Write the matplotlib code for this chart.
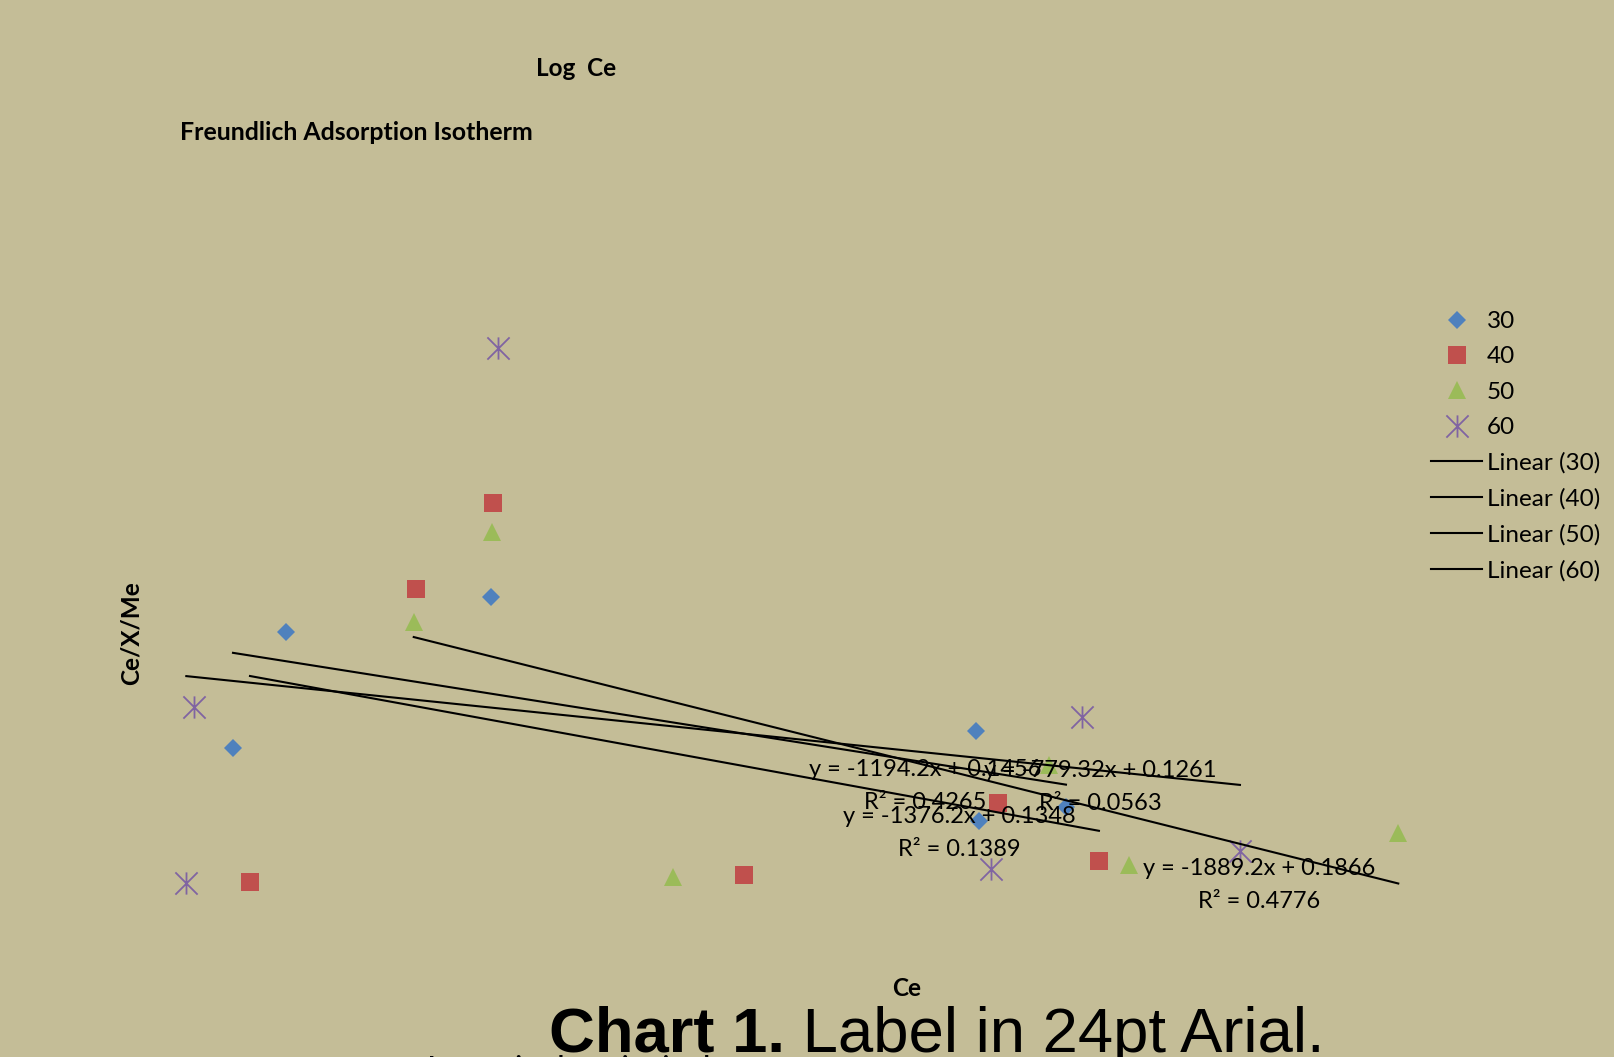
import numpy as np
import matplotlib
matplotlib.use("Agg")
import matplotlib.pyplot as plt
from matplotlib.path import Path
from matplotlib.lines import Line2D

# ─────────────────────────────────────────────────────────────────────────────
# DATA
# ─────────────────────────────────────────────────────────────────────────────

SERIES = ["30", "40", "50", "60"]

x_30 = [0.6545e-5, 1.074e-5, 2.699e-5, 6.535e-5, 6.561e-5, 7.247e-5]
y_30 = [0.0811, 0.1502, 0.1713, 0.0911, 0.0375, 0.0459]

x_40 = [0.789e-5, 2.100e-5, 2.715e-5, 4.696e-5, 6.707e-5, 7.508e-5]
y_40 = [0.0009, 0.1759, 0.2273, 0.0049, 0.0483, 0.0136]

x_50 = [2.085e-5, 2.704e-5, 4.134e-5, 7.113e-5, 7.748e-5, 9.877e-5]
y_50 = [0.1560, 0.2100, 0.0041, 0.0708, 0.0111, 0.0300]

x_60 = [0.285e-5, 0.346e-5, 2.749e-5, 6.654e-5, 7.376e-5, 8.624e-5]
y_60 = [0.0005, 0.1056, 0.3197, 0.0085, 0.0996, 0.0196]

# trendline coefficients as printed on the chart
slopes     = [-1194.2, -1376.2, -1889.2, -779.32]
intercepts = [0.1456, 0.1348, 0.1866, 0.1261]
r_squared  = [0.4265, 0.1389, 0.4776, 0.0563]

# ─────────────────────────────────────────────────────────────────────────────
# STYLE
# ─────────────────────────────────────────────────────────────────────────────

BG     = "#C4BD97"
COLORS = ["#4F81BD", "#C0504D", "#9BBB59", "#8064A2"]
FONT   = ["Lato", "DejaVu Sans"]

# Excel-style star: vertical bar plus an X
star = Path(
    [(0, -1), (0, 1), (-1, -1), (1, 1), (-1, 1), (1, -1)],
    [Path.MOVETO, Path.LINETO, Path.MOVETO, Path.LINETO, Path.MOVETO, Path.LINETO],
)
MARKERS = [
    dict(marker="D", ms=9.2, mfc=COLORS[0], mec=COLORS[0], mew=0),
    dict(marker="s", ms=13, mfc=COLORS[1], mec=COLORS[1], mew=0),
    dict(marker="^", ms=13, mfc=COLORS[2], mec=COLORS[2], mew=0),
    dict(marker=star, ms=16, mfc="none", mec=COLORS[3], mew=1.3),
]

# label centres in figure pixels (from top-left)
LABEL_POS = [(925, 786), (959, 833), (1259, 885), (1100, 787)]

W, H = 1614, 1057
plt.rcParams["font.family"] = FONT

fig = plt.figure(figsize=(W / 100, H / 100), dpi=100, facecolor=BG)
ax = fig.add_axes([0, 0, 1, 1])
ax.set_facecolor(BG)
ax.axis("off")
ax.set_xlim(-1.1896e-5, 1.15845e-4)
ax.set_ylim(-0.10364, 0.52775)

xs = [x_30, x_40, x_50, x_60]
ys = [y_30, y_40, y_50, y_60]

# ── Scatter points ─────────────────────────────────────────────────────────
handles = []
for x, y, mk, name in zip(xs, ys, MARKERS, SERIES):
    h, = ax.plot(x, y, linestyle="none", label=name, zorder=2, **mk)
    handles.append(h)

# ── Linear trendlines over each series' x-range ────────────────────────────
line_handles = []
for x, m, c, name in zip(xs, slopes, intercepts, SERIES):
    xr = np.array([min(x), max(x)])
    ax.plot(xr, m * xr + c, color="black", lw=1.5, zorder=3)
    line_handles.append(Line2D([], [], color="black", lw=1.5,
                               label=f"Linear ({name})"))

# ── Trendline equations ────────────────────────────────────────────────────
for (px, py), m, c, r2 in zip(LABEL_POS, slopes, intercepts, r_squared):
    sign = "+" if c >= 0 else "-"
    txt = f"y = {m:g}x {sign} {abs(c):g}\nR² = {r2:g}"
    fig.text(px / W, 1 - py / H, txt, ha="center", va="center",
             multialignment="center", fontsize=17, linespacing=1.7,
             color="black", zorder=5)

# ── Legend ─────────────────────────────────────────────────────────────────
leg = fig.legend(handles=handles + line_handles, loc="upper left",
                 bbox_to_anchor=(1431 / W, 1 - 311 / H), frameon=False,
                 fontsize=17.5, handlelength=2.1, handletextpad=0.2,
                 labelspacing=0.59, borderpad=0, borderaxespad=0,
                 markerscale=1.0)

# ── Titles and axis captions ───────────────────────────────────────────────
fig.text(576 / W, 1 - 69 / H, "Log  Ce", ha="center", va="center",
         fontsize=17.5, fontweight="bold")
fig.text(180 / W, 1 - 132 / H, "Freundlich Adsorption Isotherm",
         ha="left", va="center", fontsize=17.9, fontweight="bold")
fig.text(131 / W, 1 - 633 / H, "Ce/X/Me", ha="center", va="center",
         rotation=90, fontsize=17.5, fontweight="bold")
fig.text(907 / W, 1 - 988 / H, "Ce", ha="center", va="center",
         fontsize=17.5, fontweight="bold")
fig.text(428 / W, 1 - 1055 / H, "Langmuir adsorption isotherm",
         ha="left", va="top", fontsize=17.9, fontweight="bold")

# caption: bold "Chart 1." followed by regular text, in Arial metrics
cap = fig.text(549 / W, 1 - 1052 / H, "Chart 1.", ha="left", va="baseline",
               fontsize=45.6, fontweight="bold", family="Liberation Sans")
fig.canvas.draw()
bb = cap.get_window_extent()
fig.text(bb.x1 / W, 1 - 1052 / H, " Label in 24pt Arial.", ha="left",
         va="baseline", fontsize=45.6, family="Liberation Sans")

fig.savefig("out.png", dpi=100, facecolor=BG)
